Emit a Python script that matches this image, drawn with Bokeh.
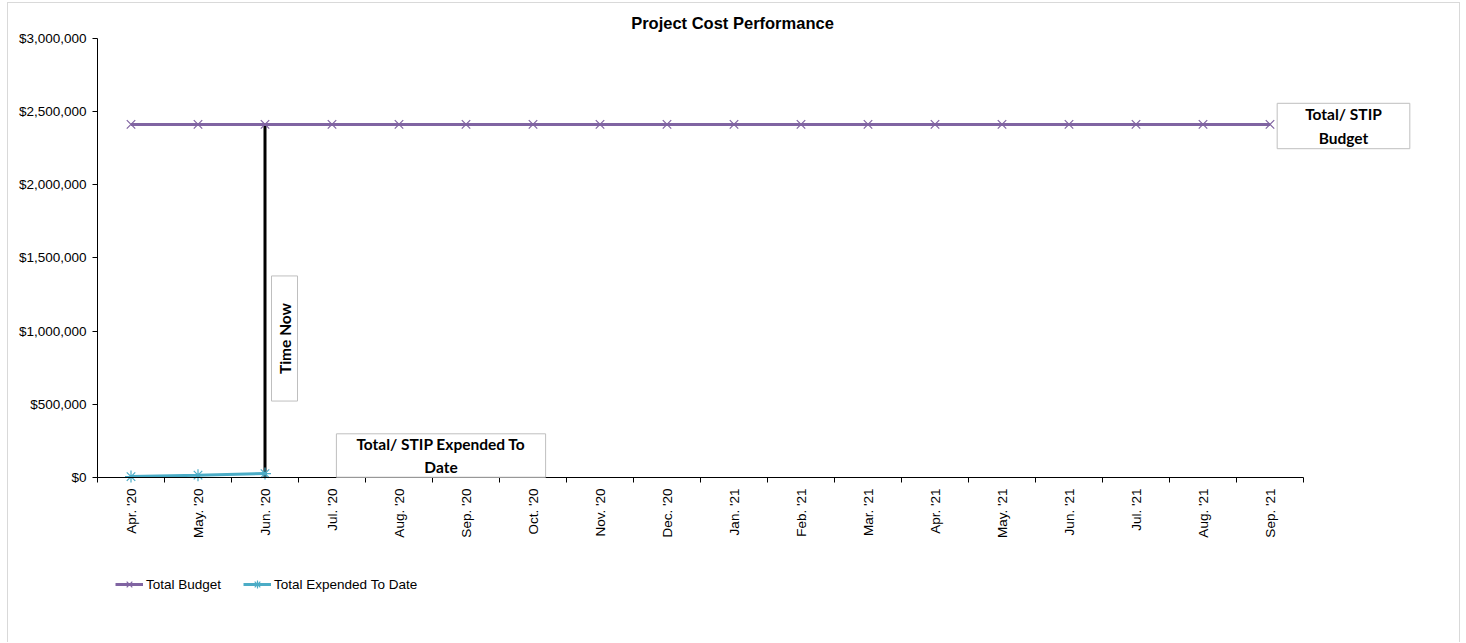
import math
from bokeh.plotting import figure
from bokeh.models import (Range1d, FixedTicker, NumeralTickFormatter, Label, Legend, LegendItem, LinearAxis)
from bokeh.embed import file_html
from bokeh.resources import INLINE

months = ["Apr. '20", "May. '20", "Jun. '20", "Jul. '20", "Aug. '20", "Sep. '20", "Oct. '20",
          "Nov. '20", "Dec. '20", "Jan. '21", "Feb. '21", "Mar. '21", "Apr. '21", "May. '21",
          "Jun. '21", "Jul. '21", "Aug. '21", "Sep. '21"]
total_budget = [2410000] * 18
expended_months = ["Apr. '20", "May. '20", "Jun. '20"]
total_expended = [6000, 16000, 27000]
time_now_month = "Jun. '20"
y_ticks = [0, 500000, 1000000, 1500000, 2000000, 2500000, 3000000]

pos = {m: i + 0.5 for i, m in enumerate(months)}
xb = [pos[m] for m in months]
xe = [pos[m] for m in expended_months]

PURPLE = "#8064A2"
TEAL = "#4BACC6"

# ---- layout (page pixels) ----
W, H = 1453, 640
CANVAS_L, CANVAS_T = 8, 3
AX_X0, AX_PX_PER_CAT = 97.0, 67.0      # page x of first category boundary, px per category
AX_Y0, AX_PX_PER_MAX = 477.0, 439.5    # page y of $0, px for the top of the y-axis
YMAX = y_ticks[-1]

def dx(px):
    return (px - AX_X0) / AX_PX_PER_CAT

def dy(py):
    return (AX_Y0 - py) / AX_PX_PER_MAX * YMAX

p = figure(width=W, height=H, output_backend="svg", toolbar_location=None,
           x_range=Range1d(dx(CANVAS_L), dx(CANVAS_L + W)),
           y_range=Range1d(dy(CANVAS_T + H), dy(CANVAS_T)),
           x_axis_location=None, y_axis_location=None,
           min_border=0, min_border_left=0, min_border_right=0, min_border_top=0, min_border_bottom=0)
p.styles = {"border-left": "1px solid #d9d9d9", "border-top": "1px solid #d9d9d9",
            "border-right": "1px solid #d9d9d9", "margin-left": "7px", "margin-top": "2px"}
p.outline_line_color = None
for g in p.grid:
    g.visible = False
p.background_fill_color = "white"
p.border_fill_color = "white"

# x axis: labels at centers, ticks at boundaries
xaxis = LinearAxis(fixed_location=0, bounds=(0, len(months)))
xaxis.ticker = FixedTicker(ticks=xb, minor_ticks=list(range(len(months) + 1)))
xaxis.major_label_overrides = {x: m for x, m in zip(xb, months)}
xaxis.major_tick_line_color = None
xaxis.minor_tick_line_color = "#000000"
xaxis.minor_tick_out = 5
xaxis.minor_tick_in = 0
xaxis.major_label_orientation = math.pi / 2
xaxis.major_label_text_font = "Liberation Sans"
xaxis.major_label_text_font_size = "13.5px"
xaxis.major_label_text_color = "#000000"
xaxis.major_label_standoff = 5
xaxis.axis_line_color = "#000000"
p.add_layout(xaxis, "below")

yaxis = LinearAxis(fixed_location=0, bounds=(0, YMAX))
yaxis.ticker = FixedTicker(ticks=y_ticks)
yaxis.formatter = NumeralTickFormatter(format="$0,0")
yaxis.major_label_text_font = "Liberation Sans"
yaxis.major_label_text_font_size = "13.5px"
yaxis.major_label_text_color = "#000000"
yaxis.major_tick_out = 5
yaxis.major_tick_in = 0
yaxis.minor_tick_line_color = None
yaxis.axis_line_color = "#000000"
yaxis.major_label_standoff = 6
p.add_layout(yaxis, "left")

# time now line
p.segment(x0=[pos[time_now_month]], y0=[0], x1=[pos[time_now_month]],
          y1=[total_budget[months.index(time_now_month)]], line_color="black", line_width=3)

lb = p.line(xb, total_budget, line_color=PURPLE, line_width=3)
sb = p.scatter(xb, total_budget, marker="x", size=12, line_color=PURPLE, line_width=1.2)
le = p.line(xe, total_expended, line_color=TEAL, line_width=3)
se = p.scatter(xe, total_expended, marker="asterisk", size=12, line_color=TEAL, line_width=1.2)

legend = Legend(items=[LegendItem(label="Total Budget", renderers=[lb, sb]),
                       LegendItem(label="Total Expended To Date", renderers=[le, se])],
                orientation="horizontal", location=(107, 49), padding=0, margin=0,
                border_line_color=None, background_fill_alpha=0, glyph_width=28,
                spacing=22, label_standoff=3, label_text_color="#000000",
                label_text_font="Liberation Sans", label_text_font_size="13.5px")
p.add_layout(legend, "center")

# title
p.add_layout(Label(x=dx(732), y=dy(22), text="Project Cost Performance",
                   text_align="center", text_baseline="middle", text_font="Liberation Sans",
                   text_font_size="16.5px", text_font_style="bold", text_color="#000000"))

box_kw = dict(text_font="Lato", text_font_size="15.5px", text_font_style="bold", text_color="#000000",
              text_align="center", text_baseline="middle", border_line_color="#bfbfbf",
              background_fill_color="white", text_line_height=1.3)

p.add_layout(Label(x=dx(284), y=dy(338), text="Time Now", angle=90, angle_units="deg",
                   padding=(27, 4), **box_kw))
p.add_layout(Label(x=dx(440.5), y=dy(455), text="Total/ STIP Expended To\nDate",
                   padding=(20, 1), **box_kw))
p.add_layout(Label(x=dx(1343), y=dy(125.5), text="Total/ STIP\nBudget",
                   padding=(28, 2), **box_kw))

open("out.html", "w").write(file_html(p, INLINE))
